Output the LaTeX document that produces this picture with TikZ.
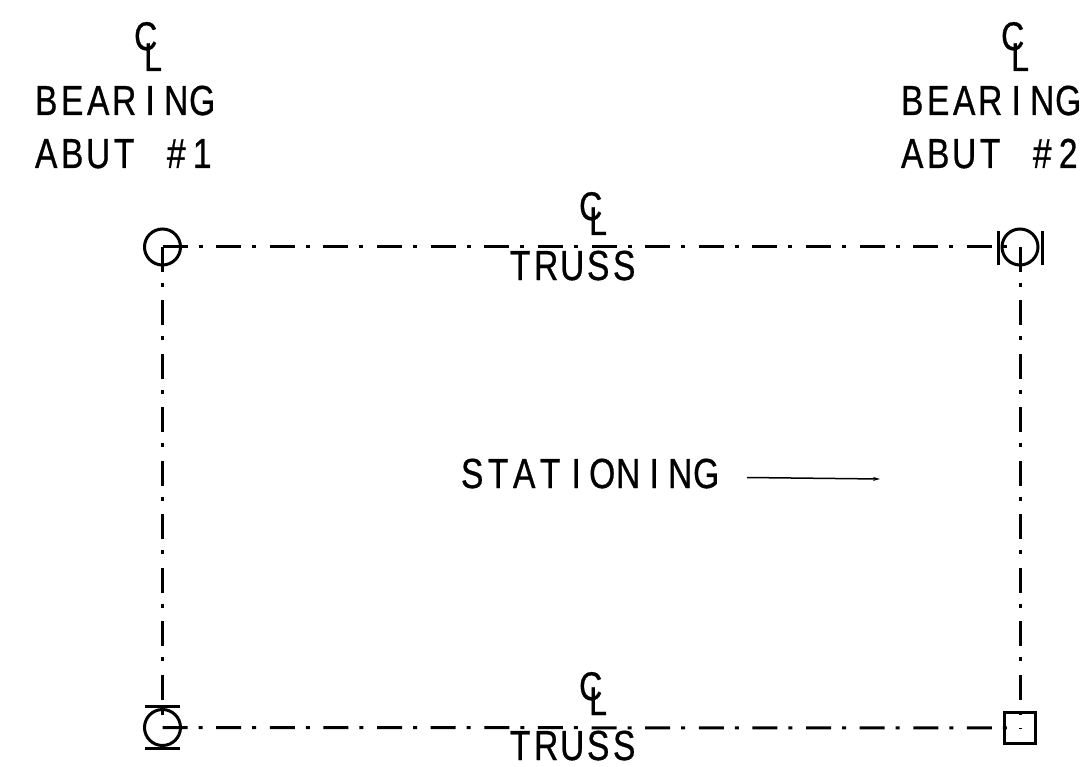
\documentclass[tikz,border=0pt]{standalone}
\usepackage{fontspec}
\usetikzlibrary{arrows.meta}
\setmainfont{Liberation Sans}
\newfontfamily\cadfont[FakeBold=0.8]{Liberation Sans}

\newlength{\cadcell}
\setlength{\cadcell}{26pt}
\def\cadloop#1{\ifx#1\relax\else\makebox[\cadcell][c]{\scalebox{0.8}[1]{#1}}\expandafter\cadloop\fi}
\newcommand{\cadtext}[1]{\cadloop#1\relax}

\tikzset{
  lettering/.style={inner sep=0pt,anchor=base west,font=\cadfont\fontsize{42}{42}\selectfont},
  clmark/.style={inner sep=0pt,anchor=base west,xscale=0.8,font=\cadfont\fontsize{40}{40}\selectfont},
  centreline/.style={line width=3pt,dash pattern=on 25pt off 11pt on 4pt off 13.625pt},
  sideline/.style={line width=3pt,dash pattern=on 25pt off 11pt on 4pt off 13.44pt},
  bearing/.style={draw,circle,line width=3pt,minimum size=36pt,inner sep=0pt},
  guide/.style={line width=3pt}
}

\begin{document}
\begin{tikzpicture}[x=1pt,y=-1pt]
\useasboundingbox (0,0) rectangle (1086,767);

% bearings at the four corners
\node[bearing] (brgA) at (162.5,247) {};
\node[bearing] (brgB) at (1020,247) {};
\node[bearing] (brgC) at (162.5,727.5) {};
\node[draw,line width=3.5pt,minimum size=31pt,inner sep=0pt] (brgD) at (1020,728) {};

% truss and abutment centre lines
\draw[centreline] (brgA.center) -- (brgB.center);
\draw[centreline] (brgC.center) -- (brgD.center);
\draw[sideline] (brgA.center) -- (brgC.center);
\draw[sideline] (brgB.center) -- (brgD.center);

% guide bars
\draw[guide] (998,231) -- (998,265);
\draw[guide] (1042,231) -- (1042,265);
\draw[guide] (145,706) -- (180,706);
\draw[guide] (145,748) -- (180,748);

% centre line marks
\foreach \name/\x/\yc/\yl in {a/134/50/71,b/1001/50/71,c/579/220/235,d/579/700/715}{
  \node[clmark] (c\name) at (\x,\yc) {C};
  \node[clmark] (l\name) at (\x+10,\yl) {L};
}

\node[lettering] (brgtextA) at (33,115) {\cadtext{BEARING}};
\node[lettering] (abuttextA) at (33,168) {\cadtext{ABUT~\#1}};
\node[lettering] (brgtextB) at (899,115) {\cadtext{BEARING}};
\node[lettering] (abuttextB) at (899,168) {\cadtext{ABUT~\#2}};
\node[lettering] (trussA) at (507,280) {\cadtext{TRUSS}};
\node[lettering] (trussB) at (507,760) {\cadtext{TRUSS}};
\node[lettering] (stationing) at (459,488) {\cadtext{STATIONING}};

% direction of stationing
\coordinate (stationstart) at (747,477.5);
\coordinate (stationend) at (880,479);
\draw[-{Stealth[length=7pt,width=4pt]},line width=1.5pt] (stationstart) -- (stationend);
\end{tikzpicture}
\end{document}
